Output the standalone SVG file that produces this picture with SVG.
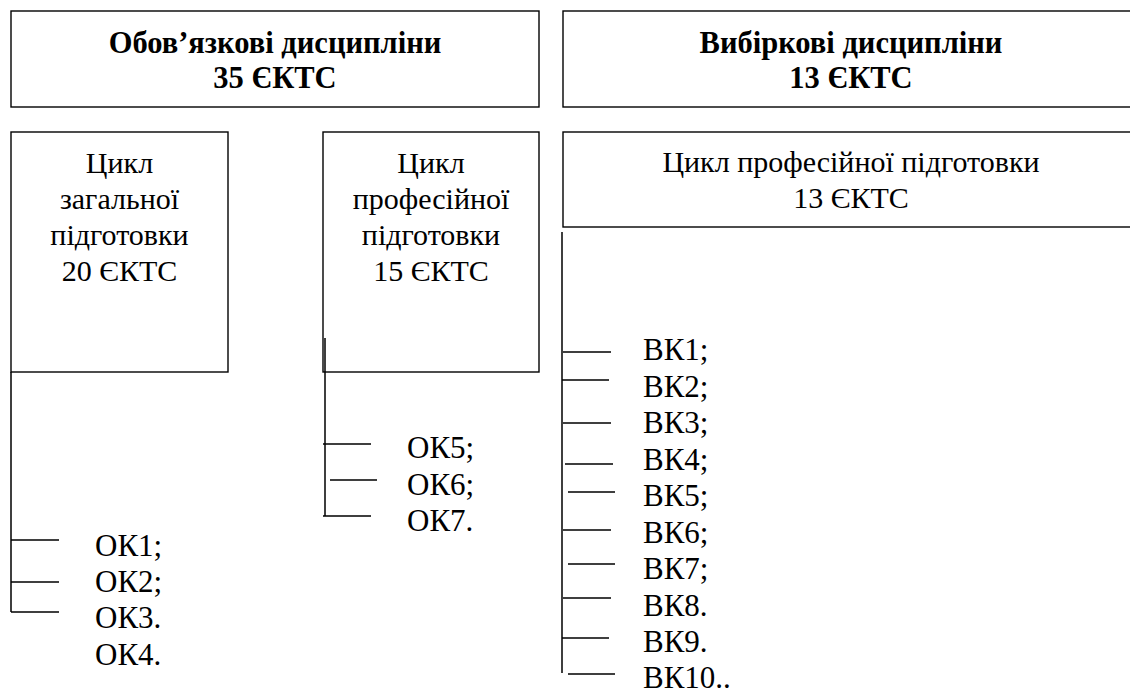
<svg xmlns="http://www.w3.org/2000/svg" width="1130" height="693" viewBox="0 0 1130 693">
<style>
.box{fill:#fff;stroke:#000;stroke-width:1.4}
.ln{stroke:#000;stroke-width:1.5;fill:none}
text{font-family:"Liberation Serif","Times New Roman",serif;fill:#000}
.b{font-weight:bold;font-size:30.5px;text-anchor:middle}
.c{font-size:30px;text-anchor:middle}
.i{font-size:31px}
</style>
<rect width="1130" height="693" fill="#fff"/>
<g id="mandatory">
<rect class="box" x="11" y="11" width="528" height="96"/>
<text class="b" x="275" y="53">Обов’язкові дисципліни</text>
<text class="b" x="275" y="88">35 ЄКТС</text>
</g>
<g id="elective">
<rect class="box" x="563" y="11" width="580" height="96"/>
<text class="b" x="851" y="53">Вибіркові дисципліни</text>
<text class="b" x="851" y="88">13 ЄКТС</text>
</g>
<g id="general-cycle">
<rect class="box" x="11" y="132" width="217" height="240"/>
<text class="c" x="119.5" y="173">Цикл</text>
<text class="c" x="119.5" y="209">загальної</text>
<text class="c" x="119.5" y="245">підготовки</text>
<text class="c" x="119.5" y="281">20 ЄКТС</text>
</g>
<g id="prof-cycle">
<rect class="box" x="323" y="132" width="216" height="240"/>
<text class="c" x="431" y="173">Цикл</text>
<text class="c" x="431" y="209">професійної</text>
<text class="c" x="431" y="245">підготовки</text>
<text class="c" x="431" y="281">15 ЄКТС</text>
</g>
<g id="elective-cycle">
<rect class="box" x="563" y="132" width="580" height="95"/>
<text class="c" x="851" y="172">Цикл професійної підготовки</text>
<text class="c" x="851" y="208">13 ЄКТС</text>
</g>
<g id="connectors">
<path class="ln" d="M11 372V612M11 540H59M11 582H59M11 612H59"/>
<path class="ln" d="M325 338V516M323 444H371M330 480H377M323 516H371"/>
<path class="ln" d="M562 232V673M563 352H611M562 380H609M563 423H611M565 464H613M568 492H615M563 530H611M568 564H615M563 598H611M562 638H609M568 674H615"/>
</g>
<g id="ok-list">
<text class="i" x="95" y="556">ОК1;</text>
<text class="i" x="95" y="592">ОК2;</text>
<text class="i" x="95" y="628">ОК3.</text>
<text class="i" x="95" y="665">ОК4.</text>
<text class="i" x="407" y="458">ОК5;</text>
<text class="i" x="407" y="495">ОК6;</text>
<text class="i" x="407" y="531">ОК7.</text>
</g>
<g id="vk-list">
<text class="i" x="643" y="360">ВК1;</text>
<text class="i" x="643" y="396.5">ВК2;</text>
<text class="i" x="643" y="433">ВК3;</text>
<text class="i" x="643" y="469.5">ВК4;</text>
<text class="i" x="643" y="506">ВК5;</text>
<text class="i" x="643" y="542.5">ВК6;</text>
<text class="i" x="643" y="579">ВК7;</text>
<text class="i" x="643" y="615.5">ВК8.</text>
<text class="i" x="643" y="652">ВК9.</text>
<text class="i" x="643" y="688">ВК10..</text>
</g>
</svg>
